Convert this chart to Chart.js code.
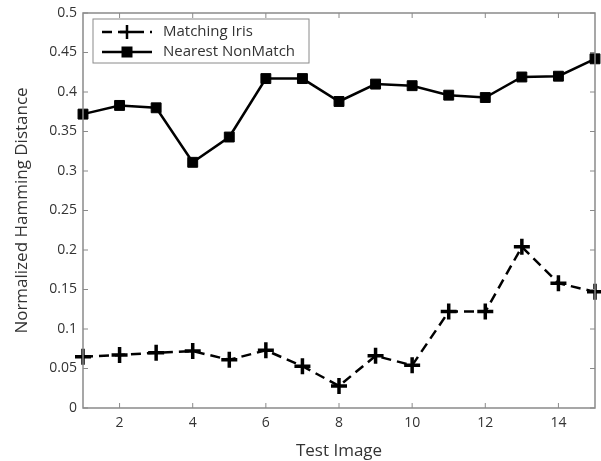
<!DOCTYPE html>
<html>
<head>
<meta charset="utf-8">
<script src="https://cdn.jsdelivr.net/npm/chart.js@4.4.1/dist/chart.umd.min.js"></script>
<style>
  html, body { margin: 0; padding: 0; background: #fff; overflow: hidden; }
  #wrap { width: 601px; height: 461px; }
</style>
</head>
<body>
<div id="wrap"><canvas id="hamming"></canvas></div>
<script>
// data
const testImages = [1, 2, 3, 4, 5, 6, 7, 8, 9, 10, 11, 12, 13, 14, 15];
const matchingIris = [0.065, 0.067, 0.070, 0.072, 0.061, 0.073, 0.053, 0.028, 0.066, 0.054, 0.122, 0.122, 0.204, 0.158, 0.147];
const nearestNonMatch = [0.372, 0.383, 0.380, 0.311, 0.343, 0.417, 0.417, 0.388, 0.410, 0.408, 0.396, 0.393, 0.419, 0.420, 0.442];
const xTicks = [2, 4, 6, 8, 10, 12, 14];
const yTicks = [0, 0.05, 0.1, 0.15, 0.2, 0.25, 0.3, 0.35, 0.4, 0.45, 0.5];

const axisGrey = "#8a8a8a";
const textGrey = "#333";
const fontFamily = "'Open Sans', 'Noto Sans', sans-serif";

function toPoints(values) {
  return values.map((v, i) => ({ x: testImages[i], y: v }));
}

// box, inward ticks and the legend inside the plot (matlab style)
const matlabFrame = {
  id: "matlabFrame",
  afterDraw(chart) {
    const ctx = chart.ctx;
    const a = chart.chartArea;
    const xs = chart.scales.x;
    const ys = chart.scales.y;
    ctx.save();
    ctx.strokeStyle = axisGrey;
    ctx.lineWidth = 1.5;
    ctx.strokeRect(a.left, a.top, a.right - a.left, a.bottom - a.top);
    ctx.lineWidth = 1;
    ctx.beginPath();
    xTicks.forEach((t) => {
      const px = xs.getPixelForValue(t);
      ctx.moveTo(px, a.bottom); ctx.lineTo(px, a.bottom - 5);
      ctx.moveTo(px, a.top); ctx.lineTo(px, a.top + 5);
    });
    yTicks.forEach((t) => {
      const py = ys.getPixelForValue(t);
      ctx.moveTo(a.left, py); ctx.lineTo(a.left + 5, py);
      ctx.moveTo(a.right, py); ctx.lineTo(a.right - 5, py);
    });
    ctx.stroke();

    // legend box
    const bx = a.left + 10, by = a.top + 6, bw = 216, bh = 44;
    ctx.fillStyle = "#fff";
    ctx.fillRect(bx, by, bw, bh);
    ctx.strokeStyle = axisGrey;
    ctx.lineWidth = 1;
    ctx.strokeRect(bx, by, bw, bh);
    chart.data.datasets.forEach((ds, i) => {
      const ly = by + 13 + i * 20;
      const x0 = bx + 9, x1 = bx + 59;
      ctx.strokeStyle = ds.borderColor;
      ctx.lineWidth = ds.borderWidth;
      ctx.setLineDash(ds.borderDash || []);
      ctx.beginPath();
      ctx.moveTo(x0, ly); ctx.lineTo(x1, ly);
      ctx.stroke();
      ctx.setLineDash([]);
      Chart.helpers.drawPoint(ctx, {
        pointStyle: ds.pointStyle,
        radius: ds.pointRadius - 1,
        rotation: 0,
        borderWidth: ds.pointBorderWidth
      }, (x0 + x1) / 2, ly);
      if (ds.pointStyle === "rect") {
        ctx.fillStyle = ds.pointBackgroundColor;
        ctx.fill();
      }
      ctx.fillStyle = textGrey;
      ctx.font = "15px " + fontFamily;
      ctx.textBaseline = "middle";
      ctx.fillText(ds.label, bx + 70, ly);
    });
    ctx.restore();
  }
};

new Chart("hamming", {
  type: "line",
  data: {
    datasets: [
      {
        label: "Matching Iris",
        data: toPoints(matchingIris),
        borderColor: "#000",
        borderWidth: 2.5,
        borderDash: [10, 6],
        pointStyle: "cross",
        pointRadius: 8,
        pointBorderWidth: 3.5,
        pointBorderColor: "#000",
        pointBackgroundColor: "#000",
        tension: 0,
        clip: 10,
      },
      {
        label: "Nearest NonMatch",
        data: toPoints(nearestNonMatch),
        borderColor: "#000",
        borderWidth: 2.5,
        pointStyle: "rect",
        pointRadius: 7,
        pointBorderWidth: 1,
        pointBorderColor: "#000",
        pointBackgroundColor: "#000",
        tension: 0,
        clip: 10,
      },
    ],
  },
  options: {
    responsive: true,
    maintainAspectRatio: false,
    animation: false,
    layout: { autoPadding: false, padding: { top: 13, right: 6, left: 12, bottom: 0 } },
    plugins: {
      legend: { display: false },
      tooltip: { enabled: false },
    },
    scales: {
      x: {
        type: "linear",
        min: 1,
        max: 15,
        afterBuildTicks: (scale) => { scale.ticks = xTicks.map((v) => ({ value: v })); },
        afterFit: (scale) => {
          scale.height = 53;
          scale.paddingLeft = 0;
          scale.paddingRight = 0;
        },
        grid: { display: false, drawTicks: false },
        border: { display: false },
        ticks: { color: textGrey, font: { family: fontFamily, size: 14 }, padding: 7 },
        title: {
          display: true,
          text: "Test Image",
          color: textGrey,
          font: { family: fontFamily, size: 17 },
          padding: { top: 2, bottom: 0 },
        },
      },
      y: {
        min: 0,
        max: 0.5,
        afterBuildTicks: (scale) => { scale.ticks = yTicks.map((v) => ({ value: v })); },
        afterFit: (scale) => {
          scale.width = 71;
          scale.paddingTop = 0;
          scale.paddingBottom = 0;
        },
        grid: { display: false, drawTicks: false },
        border: { display: false },
        ticks: {
          color: textGrey,
          font: { family: fontFamily, size: 14 },
          padding: 6,
          callback: (v) => String(Math.round(v * 100) / 100),
        },
        title: {
          display: true,
          text: "Normalized Hamming Distance",
          color: textGrey,
          font: { family: fontFamily, size: 17 },
          padding: { top: 0, bottom: 4 },
        },
      },
    },
  },
  plugins: [matlabFrame],
});
</script>
</body>
</html>
